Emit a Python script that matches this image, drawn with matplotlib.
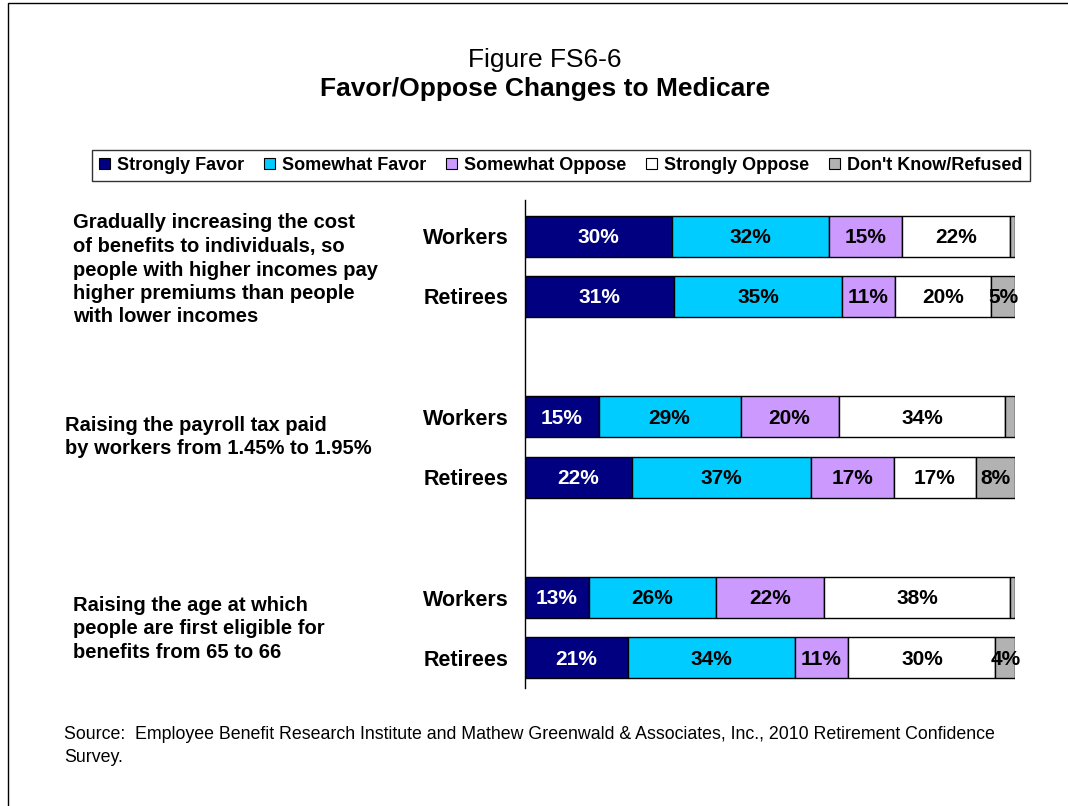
import matplotlib.pyplot as plt
from matplotlib.patches import Patch, Rectangle

plt.rcParams['font.family'] = ['Liberation Sans', 'DejaVu Sans']

# Datos
categories = ['Strongly Favor', 'Somewhat Favor', 'Somewhat Oppose',
              'Strongly Oppose', "Don't Know/Refused"]
groups = ['Workers', 'Retirees'] * 3
questions = [
    'Gradually increasing the cost\nof benefits to individuals, so\npeople with higher incomes pay\nhigher premiums than people\nwith lower incomes',
    'Raising the payroll tax paid\nby workers from 1.45% to 1.95%',
    'Raising the age at which\npeople are first eligible for\nbenefits from 65 to 66',
]
strongly_favor = [30, 31, 15, 22, 13, 21]
somewhat_favor = [32, 35, 29, 37, 26, 34]
somewhat_oppose = [15, 11, 20, 17, 22, 11]
strongly_oppose = [22, 20, 34, 17, 38, 30]
dont_know = [1, 5, 2, 8, 1, 4]

colors = ['#000080', '#00CCFF', '#CC99FF', '#FFFFFF', '#B2B2B2']
text_colors = ['white', 'black', 'black', 'black', 'black']

series = [strongly_favor, somewhat_favor, somewhat_oppose, strongly_oppose, dont_know]
totals = [sum(v) for v in zip(*series)]
ypos = [0, 1, 3, 4, 6, 7]

W, H = 1068, 806
fig = plt.figure(figsize=(W / 100, H / 100), dpi=100, facecolor='white')

# marco
fig.patches.append(Rectangle((8 / W, -0.1), 1.2, 1 - 3 / H + 0.1, transform=fig.transFigure,
                             fill=False, edgecolor='black', linewidth=1))

ax = fig.add_axes([525 / W, 1 - 688 / H, 490 / W, 488 / H])

left = [0] * len(ypos)
for i, vals in enumerate(series):
    widths = [v / t * 100 for v, t in zip(vals, totals)]
    ax.barh(ypos, widths, left=left, height=0.68, color=colors[i],
            edgecolor='black', linewidth=1)
    for y, v, w, l in zip(ypos, vals, widths, left):
        if v >= 3:
            ax.text(l + w / 2, y + 0.02, f'{v}%', ha='center', va='center',
                    fontsize=15, fontweight='bold', color=text_colors[i])
    left = [l + w for l, w in zip(left, widths)]

ax.set_xlim(0, 100)
ax.set_ylim(7.5, -0.6)
ax.set_yticks(ypos)
ax.set_yticklabels(groups, fontsize=15.5, fontweight='bold')
ax.tick_params(axis='y', length=0, pad=12)
ax.set_xticks([])
for s in ['top', 'right', 'bottom']:
    ax.spines[s].set_visible(False)
ax.spines['left'].set_linewidth(1)

# títulos
fig.text(545 / W, 1 - 60 / H, 'Figure FS6-6', ha='center', va='center', fontsize=19)
fig.text(545 / W, 1 - 89 / H, 'Favor/Oppose Changes to Medicare', ha='center', va='center',
         fontsize=19, fontweight='bold')

# preguntas
q_pos = [(73, 270), (65, 437), (73, 629)]
for q, (x, y) in zip(questions, q_pos):
    fig.text(x / W, 1 - y / H, q, ha='left', va='center', fontsize=14.5,
             fontweight='bold', linespacing=1.3)

# leyenda
handles = [Patch(facecolor=c, edgecolor='black', linewidth=0.8) for c in colors]
leg = fig.legend(handles, categories, ncol=5, loc='lower left',
                 bbox_to_anchor=(92 / W, 1 - 181 / H, 938 / W, 33 / H), mode='expand',
                 frameon=True, fancybox=False, edgecolor='black', handlelength=0.6,
                 handleheight=0.6, handletextpad=0.4, borderaxespad=0,
                 prop={'weight': 'bold', 'size': 13})
leg.get_frame().set_linewidth(1)

fig.text(64 / W, 1 - 746 / H,
         'Source:  Employee Benefit Research Institute and Mathew Greenwald & Associates, Inc., 2010 Retirement Confidence\nSurvey.',
         ha='left', va='center', fontsize=12.8, linespacing=1.45)

plt.savefig('out.png', dpi=100)
